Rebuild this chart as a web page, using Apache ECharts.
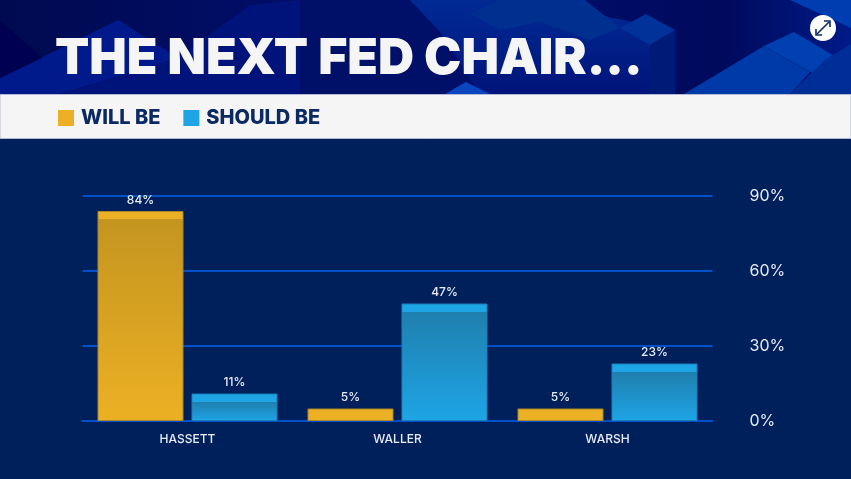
<!DOCTYPE html>
<html>
<head>
<meta charset="utf-8">
<title>The next Fed chair</title>
<script src="https://cdn.jsdelivr.net/npm/echarts@6/dist/echarts.min.js"></script>
<style>
html,body{margin:0;padding:0;background:#00205b}
#main{width:851px;height:479px}
</style>
</head>
<body>
<div id="main"></div>
<script>
var categories = ['HASSETT', 'WALLER', 'WARSH'];
var willBe = [84, 5, 5];
var shouldBe = [11, 47, 23];
var yTicks = [0, 30, 60, 90];

var myChart = echarts.init(document.getElementById('main'));

// header decoration, not data
var fadeBlue = new echarts.graphic.LinearGradient(0, 0, 0, 1, [
	{ offset: 0, color: '#002a94' }, { offset: 1, color: '#00147a' }
]);
var headerShapes = [
	{ c: '#001a8c', p: [[0,94],[0,78],[118,20],[178,58],[60,94]] },
	{ c: '#00137a', p: [[60,94],[178,58],[250,5],[300,0],[300,94]] },
	{ c: '#000f68', p: [[300,94],[300,0],[410,0],[440,32],[480,94]] },
	{ c: '#000050', p: [[0,20],[0,78],[42,58]] },
	{ c: fadeBlue, p: [[410,0],[520,0],[675,30],[675,94],[480,94],[440,32]] },
	{ c: '#00308f', p: [[470,14],[500,0],[585,0],[620,28],[590,40],[540,22],[500,30]] },
	{ c: '#003299', p: [[620,28],[646,14],[675,30],[650,45]] },
	{ c: '#001a78', p: [[650,45],[675,30],[675,94],[650,94]] },
	{ c: '#003aa8', p: [[684,94],[764,46],[810,72],[790,94]] },
	{ c: '#0040b0', p: [[764,46],[794,32],[851,66],[825,80]] },
	{ c: '#002e98', p: [[825,60],[851,44],[851,94],[790,94]] },
	{ c: '#003db0', p: [[790,0],[851,0],[851,28]] },
	{ c: '#0a46c0', p: [[445,94],[466,82],[490,94]] }
];

var graphicList = [
	{ type: 'rect', z: 0, shape: { x: 0, y: 0, width: 851, height: 95 }, style: { fill: new echarts.graphic.LinearGradient(0, 0, 1, 0, [
		{ offset: 0, color: '#000a50' }, { offset: 0.5, color: '#000f72' }, { offset: 0.85, color: '#000a5c' }, { offset: 1, color: '#001a88' }
	]) } }
];
headerShapes.forEach(function (s) {
	graphicList.push({ type: 'polygon', z: 1, shape: { points: s.p }, style: { fill: s.c } });
});
graphicList.push(
	{ type: 'rect', z: 1, shape: { x: 0, y: 94.5, width: 851, height: 44 }, style: { fill: '#f5f5f5', stroke: '#b4b8d4', lineWidth: 1 } },
	{ type: 'circle', z: 2, shape: { cx: 823, cy: 28, r: 13 }, style: { fill: '#ffffff' } },
	{ type: 'polyline', z: 3, shape: { points: [[817,34],[829,22]] }, style: { stroke: '#0b2a63', lineWidth: 1.6, fill: null } },
	{ type: 'polyline', z: 3, shape: { points: [[824,21],[830,21],[830,27]] }, style: { stroke: '#0b2a63', lineWidth: 1.6, fill: null } },
	{ type: 'polyline', z: 3, shape: { points: [[816,29],[816,35],[822,35]] }, style: { stroke: '#0b2a63', lineWidth: 1.6, fill: null } }
);

// flat cap on top of each bar, then dark to bright down to the axis
// very short bars are just the flat colour
function barFill(value, bright, dark) {
	var h = value * 2.5;
	if (h < 20) return bright;
	var cap = 8.5 / h;
	return new echarts.graphic.LinearGradient(0, 0, 0, 1, [
		{ offset: 0, color: bright },
		{ offset: cap, color: bright },
		{ offset: cap, color: dark },
		{ offset: 1, color: bright }
	]);
}

function makeSeries(name, values, bright, dark, border) {
	return {
		name: name,
		type: 'bar',
		barWidth: 86,
		barGap: '9.3%',
		data: values.map(function (v) {
			return { value: v, itemStyle: { color: barFill(v, bright, dark), borderColor: border, borderWidth: 1 } };
		}),
		label: {
			show: true,
			position: 'top',
			distance: 5,
			formatter: '{c}%',
			color: '#e8ecf4',
			fontFamily: 'Inter',
			fontSize: 12,
			fontWeight: 500
		}
	};
}

var option = {
	animation: false,
	backgroundColor: '#00205b',
	color: ['#ecb024', '#1ea5e6'],
	title: {
		text: 'THE NEXT FED CHAIR...',
		left: 50,
		top: 29,
		textStyle: { color: '#f5f5f5', fontFamily: 'Inter', fontSize: 50, fontWeight: 900 }
	},
	legend: {
		left: 53,
		top: 103,
		icon: 'rect',
		itemWidth: 16,
		itemHeight: 16,
		itemGap: 23,
		selectedMode: false,
		textStyle: { color: '#0b2a63', fontFamily: 'Inter', fontSize: 20, fontWeight: 800, padding: [1, 0, 0, 2] },
		data: ['WILL BE', 'SHOULD BE']
	},
	graphic: graphicList,
	grid: { left: 82.5, right: 138.5, top: 196, bottom: 58 },
	xAxis: {
		type: 'category',
		data: categories,
		axisLine: { lineStyle: { color: '#0050c8', width: 2 } },
		axisTick: { show: false },
		axisLabel: { color: '#e8ecf4', fontFamily: 'Inter', fontSize: 12, fontWeight: 500, margin: 12 }
	},
	yAxis: {
		type: 'value',
		position: 'right',
		min: yTicks[0],
		max: yTicks[yTicks.length - 1],
		interval: yTicks[1] - yTicks[0],
		axisLine: { show: false },
		axisTick: { show: false },
		splitLine: { lineStyle: { color: '#0050c8', width: 2 } },
		axisLabel: { color: '#e8ecf4', fontFamily: 'Inter', fontSize: 16, fontWeight: 400, margin: 37, padding: [3, 0, 0, 0], formatter: '{value}%' }
	},
	series: [
		makeSeries('WILL BE', willBe, '#ecb024', '#c4951f', '#a8862a'),
		makeSeries('SHOULD BE', shouldBe, '#1ea5e6', '#1f7fae', '#1a7fb8')
	]
};
myChart.setOption(option);
</script>
</body>
</html>
